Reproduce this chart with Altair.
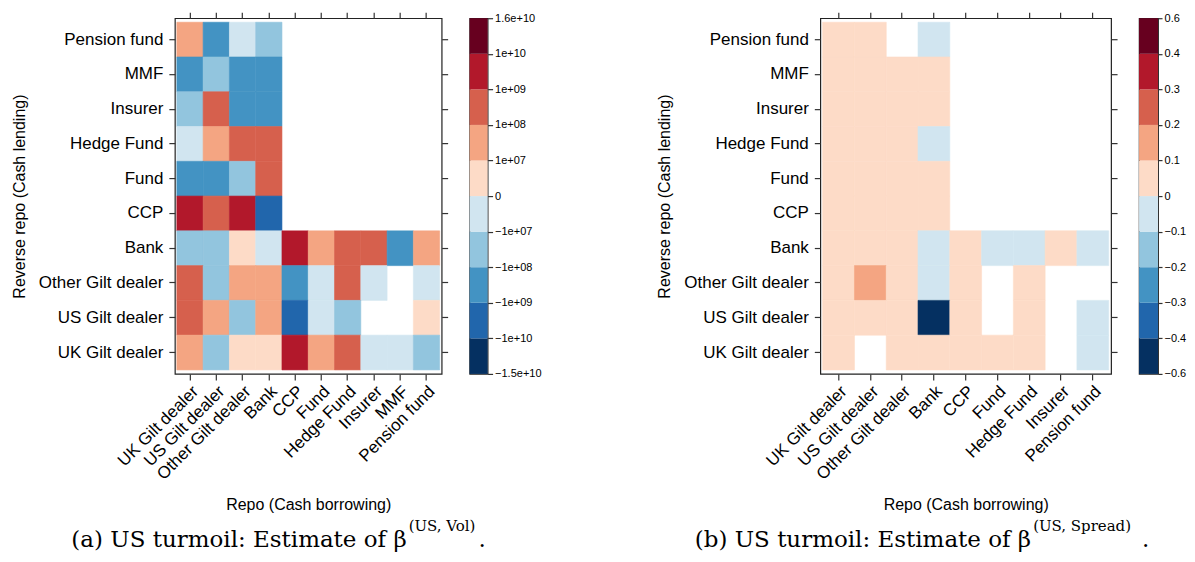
import json
import altair as alt
import pandas as pd

# ---------------- data ----------------
rows = ["Pension fund", "MMF", "Insurer", "Hedge Fund", "Fund", "CCP", "Bank",
        "Other Gilt dealer", "US Gilt dealer", "UK Gilt dealer"]
cols_vol = ["UK Gilt dealer", "US Gilt dealer", "Other Gilt dealer", "Bank", "CCP",
            "Fund", "Hedge Fund", "Insurer", "MMF", "Pension fund"]
cols_spread = ["UK Gilt dealer", "US Gilt dealer", "Other Gilt dealer", "Bank", "CCP",
               "Fund", "Hedge Fund", "Insurer", "Pension fund"]

N = None
# (a) beta(US, Vol) estimates, one list per reverse-repo row (top to bottom)
vol_pension_fund = [3e7, -3e8, -3e6, -3e7, N, N, N, N, N, N]
vol_mmf = [-3e8, -3e7, -3e8, -3e8, N, N, N, N, N, N]
vol_insurer = [-3e7, 3e8, -3e8, -3e8, N, N, N, N, N, N]
vol_hedge_fund = [-3e6, 3e7, 3e8, 3e8, N, N, N, N, N, N]
vol_fund = [-3e8, -3e8, -3e7, 3e8, N, N, N, N, N, N]
vol_ccp = [3e9, 3e8, 3e9, -3e9, N, N, N, N, N, N]
vol_bank = [-3e7, -3e7, 3e6, -3e6, 3e9, 3e7, 3e8, 3e8, -3e8, 3e7]
vol_other_gilt = [3e8, -3e7, 3e7, 3e7, -3e8, -3e6, 3e8, -3e6, N, -3e6]
vol_us_gilt = [3e8, 3e7, -3e7, 3e7, -3e9, -3e6, -3e7, N, N, 3e6]
vol_uk_gilt = [3e7, -3e7, 3e6, 3e6, 3e9, 3e7, 3e8, -3e6, -3e6, -3e7]
vol_values = [vol_pension_fund, vol_mmf, vol_insurer, vol_hedge_fund, vol_fund,
              vol_ccp, vol_bank, vol_other_gilt, vol_us_gilt, vol_uk_gilt]

# (b) beta(US, Spread) estimates
spr_pension_fund = [0.05, 0.05, N, -0.05, N, N, N, N, N]
spr_mmf = [0.05, 0.05, 0.05, 0.05, N, N, N, N, N]
spr_insurer = [0.05, 0.05, 0.05, 0.05, N, N, N, N, N]
spr_hedge_fund = [0.05, 0.05, 0.05, -0.05, N, N, N, N, N]
spr_fund = [0.05, 0.05, 0.05, 0.05, N, N, N, N, N]
spr_ccp = [0.05, 0.05, 0.05, 0.05, N, N, N, N, N]
spr_bank = [0.05, 0.05, 0.05, -0.05, 0.05, -0.05, -0.05, 0.05, -0.05]
spr_other_gilt = [0.05, 0.15, 0.05, -0.05, 0.05, N, 0.05, N, N]
spr_us_gilt = [0.05, 0.05, 0.05, -0.5, 0.05, N, 0.05, N, -0.05]
spr_uk_gilt = [0.05, N, 0.05, 0.05, 0.05, 0.05, 0.05, N, -0.05]
spr_values = [spr_pension_fund, spr_mmf, spr_insurer, spr_hedge_fund, spr_fund,
              spr_ccp, spr_bank, spr_other_gilt, spr_us_gilt, spr_uk_gilt]

# colour bins
rdbu = ["#053061", "#2166ac", "#4393c3", "#92c5de", "#d1e5f0",
        "#fddbc7", "#f4a582", "#d6604d", "#b2182b", "#67001f"]
vol_thresholds = [-1e10, -1e9, -1e8, -1e7, 0, 1e7, 1e8, 1e9, 1e10]
vol_labels = ["\u22121.5e+10", "\u22121e+10", "\u22121e+09", "\u22121e+08", "\u22121e+07",
              "0", "1e+07", "1e+08", "1e+09", "1e+10", "1.6e+10"]
spr_thresholds = [-0.4, -0.3, -0.2, -0.1, 0, 0.1, 0.2, 0.3, 0.4]
spr_labels = ["\u22120.6", "\u22120.4", "\u22120.3", "\u22120.2", "\u22120.1",
              "0", "0.1", "0.2", "0.3", "0.4", "0.6"]

caption_a = ["(a) US turmoil: Estimate of \u03b2", "(US, Vol)", "."]
caption_b = ["(b) US turmoil: Estimate of \u03b2", "(US, Spread)", "."]

# ---------------- helpers ----------------
FONT = "Liberation Sans"
PLOT_H = 356


def long_df(values, cols):
    recs = []
    for r, vals in zip(rows, values):
        for c, v in zip(cols, vals):
            if v is not None:
                recs.append({"row": r, "col": c, "value": v})
    return pd.DataFrame(recs)


def heatmap(values, cols, thresholds, width):
    df = long_df(values, cols)
    xs = alt.Scale(domain=cols, paddingInner=0, paddingOuter=0.075)
    ys = alt.Scale(domain=rows, paddingInner=0, paddingOuter=0.115)
    cs = alt.Scale(type="threshold", domain=thresholds, range=rdbu)
    base = alt.Chart(df)
    rect = base.mark_rect(strokeWidth=0.6).encode(
        x=alt.X("col:N", scale=xs, axis=alt.Axis(
            orient="bottom", labelAngle=-45, title="Repo (Cash borrowing)",
            titlePadding=14, labelPadding=3)),
        y=alt.Y("row:N", scale=ys, axis=alt.Axis(
            orient="left", title="Reverse repo (Cash lending)",
            titlePadding=11, labelPadding=6)),
        color=alt.Color("value:Q", scale=cs, legend=None),
        stroke=alt.Stroke("value:Q", scale=cs, legend=None),
    )
    ticks = base.mark_rect(opacity=0).encode(
        x=alt.X("col:N", scale=xs, axis=alt.Axis(orient="top", labels=False, title=None)),
        y=alt.Y("row:N", scale=ys, axis=alt.Axis(orient="right", labels=False, title=None)),
    )
    return alt.layer(rect, ticks).resolve_axis(x="independent", y="independent").properties(
        width=width, height=PLOT_H)


def colorbar(labels, width, tick):
    df = pd.DataFrame({"lo": list(range(10)), "hi": list(range(1, 11)), "color": rdbu})
    expr = json.dumps(labels) + "[datum.value]"
    return alt.Chart(df).mark_rect().encode(
        y=alt.Y("lo:Q", scale=alt.Scale(domain=[0, 10], nice=False, zero=False),
                axis=alt.Axis(orient="right", values=list(range(11)), labelExpr=expr,
                              title=None, grid=False, tickSize=tick, labelFontSize=11,
                              labelPadding=2)),
        y2="hi:Q",
        x=alt.value(0),
        x2=alt.value(width),
        color=alt.Color("color:N", scale=None, legend=None),
    ).properties(width=width, height=PLOT_H)


def caption(parts, x_beta_end, x_dot):
    # x positions are relative to the left plot's origin (concat alignment)
    d = pd.DataFrame({"main": [parts[0]], "sup": [parts[1]], "dot": [parts[2]]})
    b = alt.Chart(d)
    m = b.mark_text(align="right", baseline="alphabetic", font="DejaVu Serif",
                    fontSize=23, color="black").encode(
        text="main:N", x=alt.value(x_beta_end), y=alt.value(32))
    s = b.mark_text(align="left", baseline="alphabetic", font="DejaVu Serif",
                    fontSize=15, color="black").encode(
        text="sup:N", x=alt.value(x_beta_end + 2), y=alt.value(16))
    p = b.mark_text(align="left", baseline="alphabetic", font="DejaVu Serif",
                    fontSize=23, color="black").encode(
        text="dot:N", x=alt.value(x_dot), y=alt.value(32))
    return [m, s, p]


heat_a = heatmap(vol_values, cols_vol, vol_thresholds, 267)
heat_b = heatmap(spr_values, cols_spread, spr_thresholds, 291)
cbar_a = colorbar(vol_labels, 18, 5)
cbar_b = colorbar(spr_labels, 19, 4)

top_row = alt.hconcat(
    alt.hconcat(heat_a, cbar_a, spacing=19).resolve_scale(
        color="independent", stroke="independent", y="independent"),
    alt.hconcat(heat_b, cbar_b, spacing=19).resolve_scale(
        color="independent", stroke="independent", y="independent"),
    spacing=113,
).resolve_scale(color="independent", stroke="independent", y="independent")

cap_layers = caption(caption_a, 232, 304) + caption(caption_b, 857, 968)
cap_chart = alt.layer(*cap_layers).properties(
    width=700, height=34, view=alt.ViewBackground(stroke="transparent"))

chart = alt.vconcat(top_row, cap_chart, spacing=0).properties(
    padding={"left": 2, "top": 2, "right": 0, "bottom": 0}
).configure_view(stroke="#222222", strokeWidth=1.2).configure_axis(
    labelFont=FONT, titleFont=FONT, labelFontSize=17, titleFontSize=16,
    titleFontWeight="normal", labelColor="black", titleColor="black",
    domain=False, tickColor="#333333", tickSize=6, tickWidth=1.2, grid=False,
)

chart.save("out.html", embed_options={"renderer": "svg", "actions": False})
